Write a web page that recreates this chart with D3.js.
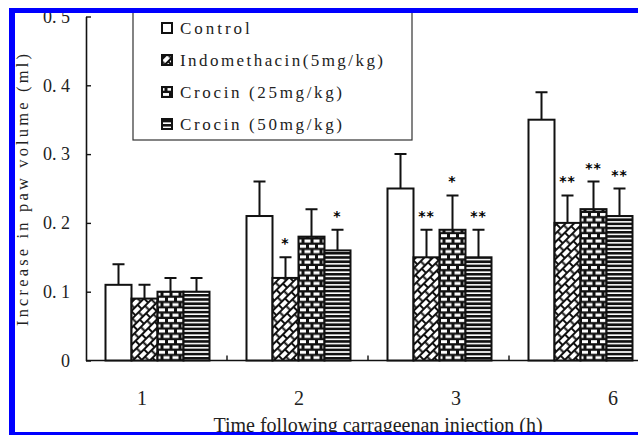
<!DOCTYPE html>
<html>
<head>
<meta charset="utf-8">
<script src="https://cdn.jsdelivr.net/npm/d3@7"></script>
<style>
  body { margin: 0; background: #fff; }
  svg { display: block; }
</style>
</head>
<body>
<script>
// data
const categories = ['1', '2', '3', '6'];
const seriesNames = ['Control', 'Indomethacin(5mg/kg)', 'Crocin (25mg/kg)', 'Crocin (50mg/kg)'];
const control = [0.11, 0.21, 0.25, 0.35];
const controlErr = [0.03, 0.05, 0.05, 0.04];
const indo = [0.09, 0.12, 0.15, 0.20];
const indoErr = [0.02, 0.03, 0.04, 0.04];
const crocin25 = [0.10, 0.18, 0.19, 0.22];
const crocin25Err = [0.02, 0.04, 0.05, 0.04];
const crocin50 = [0.10, 0.16, 0.15, 0.21];
const crocin50Err = [0.02, 0.03, 0.04, 0.04];
const controlSig = ['', '', '', ''];
const indoSig = ['', '*', '**', '**'];
const crocin25Sig = ['', '', '*', '**'];
const crocin50Sig = ['', '*', '**', '**'];
const yTicks = [0, 0.1, 0.2, 0.3, 0.4, 0.5];
const yTickLabels = ['0', '0. 1', '0. 2', '0. 3', '0. 4', '0. 5'];

const values = [control, indo, crocin25, crocin50];
const errors = [controlErr, indoErr, crocin25Err, crocin50Err];
const sigs = [controlSig, indoSig, crocin25Sig, crocin50Sig];
const fills = ['#fff', 'url(#diagBrick)', 'url(#hBrick)', 'url(#hLines)'];

const W = 638, H = 435;
const svg = d3.select('body').append('svg')
  .attr('width', W)
  .attr('height', H);

svg.append('rect').attr('width', W).attr('height', H).attr('fill', '#fff');

// fill patterns
const defs = svg.append('defs');

const p1 = defs.append('pattern')
  .attr('id', 'diagBrick')
  .attr('patternUnits', 'userSpaceOnUse')
  .attr('width', 9).attr('height', 12)
  .attr('patternTransform', 'rotate(-45)');
p1.append('rect').attr('width', 9).attr('height', 12).attr('fill', '#fff');
p1.append('path')
  .attr('d', 'M0,0H9M0,6H9M0,12H9M1,0V6M5.5,6V12')
  .attr('stroke', '#111').attr('stroke-width', 2).attr('fill', 'none');

const p2 = defs.append('pattern')
  .attr('id', 'hBrick')
  .attr('patternUnits', 'userSpaceOnUse')
  .attr('width', 9).attr('height', 10.6);
p2.append('rect').attr('width', 9).attr('height', 10.6).attr('fill', '#111');
p2.append('rect').attr('x', 1).attr('y', 1).attr('width', 6).attr('height', 3).attr('fill', '#fff');
p2.append('rect').attr('x', -3.5).attr('y', 6.3).attr('width', 6).attr('height', 3).attr('fill', '#fff');
p2.append('rect').attr('x', 5.5).attr('y', 6.3).attr('width', 6).attr('height', 3).attr('fill', '#fff');

const p3 = defs.append('pattern')
  .attr('id', 'hLines')
  .attr('patternUnits', 'userSpaceOnUse')
  .attr('width', 8).attr('height', 4.2);
p3.append('rect').attr('width', 8).attr('height', 4.2).attr('fill', '#fff');
p3.append('rect').attr('y', 0).attr('width', 8).attr('height', 2.6).attr('fill', '#111');

// scales
const x0 = d3.scaleBand().domain(categories).range([86, 650]);
const x1 = d3.scaleBand().domain(d3.range(seriesNames.length))
  .range([19.5, 123.5]);
const y = d3.scaleLinear().domain([0, 0.5]).range([360.5, 16.5]);
const xLab = d3.scalePoint().domain(categories).range([142, 613]);

// y axis
const yAxis = svg.append('g')
  .attr('transform', 'translate(86,0)')
  .call(d3.axisLeft(y)
    .tickValues(yTicks)
    .tickFormat((d, i) => yTickLabels[i])
    .tickSize(-5)
    .tickSizeOuter(0)
    .tickPadding(16));
yAxis.select('.domain').attr('stroke', '#111').attr('stroke-width', 1.6);
yAxis.selectAll('.tick line').attr('stroke', '#111').attr('stroke-width', 1.4);
yAxis.selectAll('.tick text')
  .attr('fill', '#222')
  .style('font-family', '"Liberation Serif", serif')
  .style('font-size', '18px');

// x axis line and ticks between groups
svg.append('line')
  .attr('x1', 86).attr('x2', W)
  .attr('y1', y(0)).attr('y2', y(0))
  .attr('stroke', '#111').attr('stroke-width', 1.6);
svg.selectAll('.xtick')
  .data(categories.slice(1))
  .enter().append('line')
  .attr('class', 'xtick')
  .attr('x1', d => x0(d)).attr('x2', d => x0(d))
  .attr('y1', y(0)).attr('y2', y(0) - 5)
  .attr('stroke', '#111').attr('stroke-width', 1.4);

svg.selectAll('.xlab')
  .data(categories)
  .enter().append('text')
  .attr('class', 'xlab')
  .attr('x', d => xLab(d))
  .attr('y', 405)
  .attr('text-anchor', 'middle')
  .attr('fill', '#222')
  .style('font-family', '"Liberation Serif", serif')
  .style('font-size', '20px')
  .text(d => d);

// bars
const groups = svg.selectAll('.grp')
  .data(categories)
  .enter().append('g')
  .attr('class', 'grp')
  .attr('transform', d => `translate(${x0(d)},0)`);

seriesNames.forEach((name, s) => {
  const bw = x1.bandwidth();
  groups.append('rect')
    .attr('x', x1(s))
    .attr('y', (d, i) => y(values[s][i]))
    .attr('width', bw)
    .attr('height', (d, i) => y(0) - y(values[s][i]))
    .attr('fill', fills[s])
    .attr('stroke', '#111')
    .attr('stroke-width', 2);

  // error bars (upper only)
  groups.append('path')
    .attr('d', (d, i) => {
      const cx = x1(s) + bw / 2;
      const top = y(values[s][i] + errors[s][i]);
      return `M${cx},${y(values[s][i])}V${top}M${cx - 6},${top}H${cx + 6}`;
    })
    .attr('stroke', '#111')
    .attr('stroke-width', 2)
    .attr('fill', 'none');

  groups.append('text')
    .attr('x', x1(s) + bw / 2)
    .attr('y', (d, i) => y(values[s][i] + errors[s][i]) - 9)
    .attr('text-anchor', 'middle')
    .attr('fill', '#000')
    .style('font-family', '"DejaVu Sans", sans-serif')
    .style('font-weight', 'bold')
    .style('font-size', '14px')
    .style('letter-spacing', '1px')
    .text((d, i) => sigs[s][i]);
});

// legend
const legend = svg.append('g');
legend.append('rect')
  .attr('x', 133).attr('y', -5)
  .attr('width', 279).attr('height', 145)
  .attr('fill', '#fff')
  .attr('stroke', '#333')
  .attr('stroke-width', 1.2);
const items = legend.selectAll('.item')
  .data(seriesNames)
  .enter().append('g')
  .attr('class', 'item')
  .attr('transform', (d, i) => `translate(0,${28 + i * 32})`);
items.append('rect')
  .attr('x', 162).attr('y', -5)
  .attr('width', 10).attr('height', 10)
  .attr('fill', (d, i) => fills[i])
  .attr('stroke', '#111')
  .attr('stroke-width', 2);
items.append('text')
  .attr('x', 180)
  .attr('y', 6)
  .attr('fill', '#222')
  .attr('textLength', d => d.length * 10.25 - 2)
  .attr('lengthAdjust', 'spacing')
  .style('font-family', '"Liberation Serif", serif')
  .style('font-size', '17px')
  .text(d => d);

// axis titles
const yTitle = 'Increase in paw volume (ml)';
svg.append('text')
  .attr('transform', 'translate(28,190) rotate(-90)')
  .attr('text-anchor', 'middle')
  .attr('fill', '#222')
  .attr('textLength', 272)
  .attr('lengthAdjust', 'spacing')
  .style('font-family', '"Liberation Serif", serif')
  .style('font-size', '16.5px')
  .text(yTitle);

svg.append('text')
  .attr('x', 378)
  .attr('y', 432)
  .attr('text-anchor', 'middle')
  .attr('fill', '#222')
  .style('font-family', '"Liberation Serif", serif')
  .style('font-size', '20px')
  .text('Time following carrageenan injection (h)');

// blue frame drawn on top
svg.append('rect').attr('x', 0).attr('y', 0).attr('width', W).attr('height', 8).attr('fill', '#fff');
svg.append('rect').attr('x', 9).attr('y', 8).attr('width', W - 9).attr('height', 5).attr('fill', '#0000ff');
svg.append('rect').attr('x', 9).attr('y', 8).attr('width', 6).attr('height', H - 8).attr('fill', '#0000ff');
svg.append('rect').attr('x', 9).attr('y', 432).attr('width', W - 9).attr('height', 3).attr('fill', '#0000ff');
svg.append('rect').attr('x', 0).attr('y', 0).attr('width', 9).attr('height', H).attr('fill', '#fff');
</script>
</body>
</html>
